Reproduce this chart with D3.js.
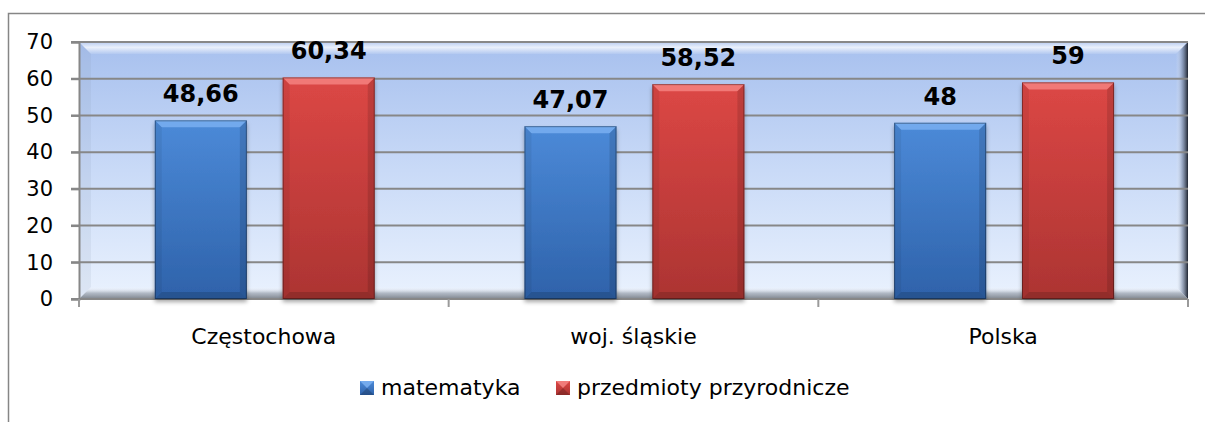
<!DOCTYPE html>
<html>
<head>
<meta charset="utf-8">
<script src="https://cdn.jsdelivr.net/npm/d3@7"></script>
<style>
  body { margin: 0; background: #fff; }
  svg { display: block; font-family: "DejaVu Sans", sans-serif; }
</style>
</head>
<body>
<svg width="1205" height="422"></svg>
<script>
// dane z wykresu
const categories = ["Częstochowa", "woj. śląskie", "Polska"];
const series = ["matematyka", "przedmioty przyrodnicze"];
const matematyka = [48.66, 47.07, 48];
const przyrodnicze = [60.34, 58.52, 59];
const yTicks = [0, 10, 20, 30, 40, 50, 60, 70];

const colors = {
  matematyka: { top: "#4c8ad8", bottom: "#2e62aa", light: "#7fb4f4" },
  "przedmioty przyrodnicze": { top: "#dc4745", bottom: "#ac3432", light: "#f88a88" },
};

const svg = d3.select("svg");
const defs = svg.append("defs");

// obszar wykresu
const pL = 79, pR = 1188, pT = 42, pB = 299;

const x = d3.scaleBand().domain(categories).range([pL, pR]);
const xSub = d3
  .scaleBand()
  .domain(series)
  .range([x.bandwidth() * 0.205, x.bandwidth() * 0.8])
  .paddingInner(0.28);
const y = d3.scaleLinear().domain([0, 70]).range([pB, pT]);

// gradienty
function vGrad(id, stops) {
  const g = defs.append("linearGradient").attr("id", id)
    .attr("x1", 0).attr("y1", 0).attr("x2", 0).attr("y2", 1);
  stops.forEach(([o, c, op]) => g.append("stop").attr("offset", o)
    .attr("stop-color", c).attr("stop-opacity", op == null ? 1 : op));
}
function hGrad(id, stops) {
  const g = defs.append("linearGradient").attr("id", id)
    .attr("x1", 0).attr("y1", 0).attr("x2", 1).attr("y2", 0);
  stops.forEach(([o, c, op]) => g.append("stop").attr("offset", o)
    .attr("stop-color", c).attr("stop-opacity", op == null ? 1 : op));
}
vGrad("bg", [[0, "#a7c0ee"], [0.5, "#c9daf7"], [1, "#eaf2fe"]]);
vGrad("bevTop", [[0, "#ffffff", 0.2], [0.45, "#ffffff", 0.75], [1, "#ffffff", 0.1]]);
hGrad("bevRight", [[0, "#ffffff", 0], [0.5, "#7c8aa4", 0.6], [1, "#1e2430", 1]]);
vGrad("bevBottom", [[0, "#ffffff", 0], [0.5, "#9aa2ae", 0.7], [1, "#70767e", 0.9]]);
series.forEach((s, i) => {
  vGrad("bar" + i, [[0, colors[s].top], [1, colors[s].bottom]]);
});
const shadow = defs.append("filter").attr("id", "shadow")
  .attr("x", "-10%").attr("y", "-10%").attr("width", "120%").attr("height", "130%");
shadow.append("feDropShadow").attr("dx", 0).attr("dy", 3)
  .attr("stdDeviation", 2).attr("flood-color", "#000").attr("flood-opacity", 0.35);

// ramka całego wykresu
svg.append("rect")
  .attr("x", 8.5).attr("y", 13.5)
  .attr("width", 1300).attr("height", 500)
  .attr("fill", "none").attr("stroke", "#868686").attr("stroke-width", 1.5);

// tło z fazowaniem
const b = 12;
svg.append("rect")
  .attr("x", pL).attr("y", pT)
  .attr("width", pR - pL).attr("height", pB - pT)
  .attr("fill", "url(#bg)");
svg.append("polygon")
  .attr("points", [[pL, pT], [pR, pT], [pR - b, pT + b], [pL + b, pT + b]].join(" "))
  .attr("fill", "url(#bevTop)");
svg.append("polygon")
  .attr("points", [[pR, pT], [pR, pB], [pR - b, pB - b], [pR - b, pT + b]].join(" "))
  .attr("fill", "url(#bevRight)");
svg.append("polygon")
  .attr("points", [[pL, pB], [pR, pB], [pR - b, pB - b], [pL + b, pB - b]].join(" "))
  .attr("fill", "url(#bevBottom)");
svg.append("polygon")
  .attr("points", [[pL, pT], [pL + b, pT + b], [pL + b, pB - b], [pL, pB]].join(" "))
  .attr("fill", "#8090b0").attr("opacity", 0.12);

// linie siatki
svg.append("g")
  .selectAll("line")
  .data(yTicks.filter((d) => d > 0))
  .enter()
  .append("line")
  .attr("x1", pL - 8).attr("x2", pR)
  .attr("y1", (d) => y(d)).attr("y2", (d) => y(d))
  .attr("stroke", "#878787").attr("stroke-width", 2);

// oś Y
const yAxis = svg.append("g")
  .attr("transform", `translate(${pL},0)`)
  .call(d3.axisLeft(y).tickValues(yTicks).tickSize(8).tickPadding(18));
yAxis.select(".domain").attr("stroke", "#878787").attr("stroke-width", 2);
yAxis.selectAll(".tick line").attr("stroke", "#878787").attr("stroke-width", 2);
yAxis.selectAll("text").attr("font-size", 21).attr("fill", "#000")
  .attr("font-family", "DejaVu Sans");

// oś X
svg.append("line")
  .attr("x1", pL - 8).attr("x2", pR)
  .attr("y1", pB).attr("y2", pB)
  .attr("stroke", "#878787").attr("stroke-width", 2);
const bounds = categories.map((c) => x(c)).concat([pR]);
svg.append("g")
  .selectAll("line")
  .data(bounds)
  .enter()
  .append("line")
  .attr("x1", (d) => d).attr("x2", (d) => d)
  .attr("y1", pB).attr("y2", pB + 8)
  .attr("stroke", "#9a9a9a").attr("stroke-width", 2);

svg.append("g")
  .selectAll("text")
  .data(categories)
  .enter()
  .append("text")
  .attr("x", (d) => x(d) + x.bandwidth() / 2)
  .attr("y", 344)
  .attr("text-anchor", "middle")
  .attr("font-size", 22)
  .text((d) => d);

// słupki
const rows = [];
categories.forEach((c, i) => {
  rows.push({ cat: c, s: series[0], si: 0, v: matematyka[i] });
  rows.push({ cat: c, s: series[1], si: 1, v: przyrodnicze[i] });
});

const bw = xSub.bandwidth();
const bb = 7;
const bars = svg.append("g")
  .selectAll("g")
  .data(rows)
  .enter()
  .append("g")
  .attr("transform", (d) => `translate(${x(d.cat) + xSub(d.s)},0)`);

bars.append("rect")
  .attr("x", 0).attr("y", (d) => y(d.v))
  .attr("width", bw).attr("height", (d) => pB - y(d.v))
  .attr("fill", (d) => `url(#bar${d.si})`)
  .attr("filter", "url(#shadow)");
bars.append("polygon")
  .attr("points", (d) => {
    const t = y(d.v);
    return [[0, t], [bw, t], [bw - bb, t + bb], [bb, t + bb]].join(" ");
  })
  .attr("fill", (d) => colors[d.s].light).attr("opacity", 0.75);
bars.append("polygon")
  .attr("points", (d) => [[0, pB], [bw, pB], [bw - bb, pB - bb], [bb, pB - bb]].join(" "))
  .attr("fill", "#000").attr("opacity", 0.15);
bars.append("polygon")
  .attr("points", (d) => {
    const t = y(d.v);
    return [[bw, t], [bw, pB], [bw - bb, pB - bb], [bw - bb, t + bb]].join(" ");
  })
  .attr("fill", "#000").attr("opacity", 0.12);
bars.append("polygon")
  .attr("points", (d) => {
    const t = y(d.v);
    return [[0, t], [0, pB], [bb, pB - bb], [bb, t + bb]].join(" ");
  })
  .attr("fill", "#000").attr("opacity", 0.06);
bars.append("rect")
  .attr("x", 0.5).attr("y", (d) => y(d.v) + 0.5)
  .attr("width", bw - 1).attr("height", (d) => pB - y(d.v) - 1)
  .attr("fill", "none").attr("stroke", "#000").attr("stroke-opacity", 0.35);

// etykiety wartości
bars.append("text")
  .attr("x", bw / 2)
  .attr("y", (d) => y(d.v) - 18)
  .attr("text-anchor", "middle")
  .attr("font-size", 24)
  .attr("font-weight", "bold")
  .text((d) => String(d.v).replace(".", ","));

// legenda
const legend = svg.append("g");
const legendX = [360, 556];
series.forEach((s, i) => {
  const g = legend.append("g").attr("transform", `translate(${legendX[i]},381)`);
  g.append("rect").attr("width", 14).attr("height", 14).attr("fill", `url(#bar${i})`);
  g.append("polygon").attr("points", "0,0 14,0 7,7").attr("fill", colors[s].light).attr("opacity", 0.8);
  g.append("polygon").attr("points", "0,14 14,14 7,7").attr("fill", "#000").attr("opacity", 0.2);
  g.append("text").attr("x", 21).attr("y", 14).attr("font-size", 22).text(s);
});
</script>
</body>
</html>
